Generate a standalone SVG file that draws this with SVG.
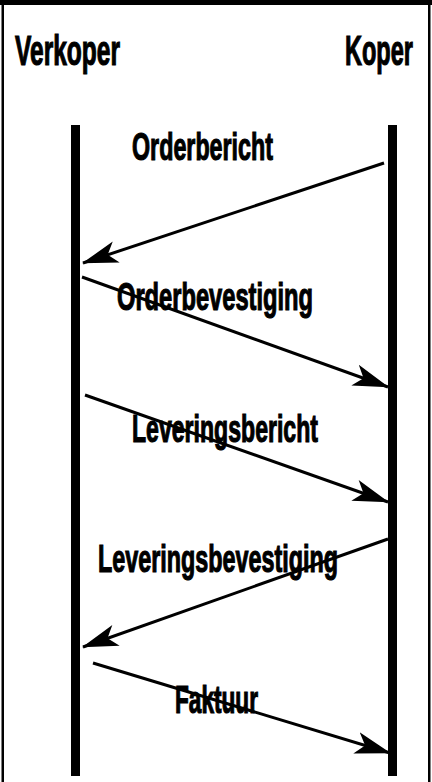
<svg xmlns="http://www.w3.org/2000/svg" width="432" height="782" viewBox="0 0 432 782">
<style>
.t{font-family:"Liberation Sans",Arial,sans-serif;font-weight:bold;fill:#000;stroke:#000;stroke-width:1.2;}
.msg{stroke:#000;stroke-width:3;fill:none;marker-end:url(#ah);}
.life{fill:#000;}
</style>
<defs>
<marker id="ah" viewBox="0 0 36 24" refX="35" refY="12" markerWidth="36" markerHeight="24" markerUnits="userSpaceOnUse" orient="auto">
<path d="M0,1 L36,12 L0,23 L9,12 Z" fill="#000"/>
</marker>
</defs>
<rect x="0" y="0" width="432" height="782" fill="#fff"/>
<rect x="0" y="0" width="432" height="5" fill="#000"/>
<rect x="1.5" y="2" width="2.5" height="780" fill="#000"/>
<rect x="428" y="2" width="2.5" height="780" fill="#000"/>
<g id="verkoper">
<text class="t" x="15" y="65" font-size="42" textLength="105" lengthAdjust="spacingAndGlyphs">Verkoper</text>
<rect class="life" x="71" y="125" width="9" height="651"/>
</g>
<g id="koper">
<text class="t" x="345" y="65" font-size="42" textLength="68" lengthAdjust="spacingAndGlyphs">Koper</text>
<rect class="life" x="388" y="125" width="9" height="651"/>
</g>
<g id="connectors">
<line class="msg" x1="384" y1="163" x2="83" y2="263"/>
<line class="msg" x1="82" y1="277" x2="388" y2="387"/>
<line class="msg" x1="85" y1="395" x2="388" y2="502"/>
<line class="msg" x1="388" y1="539" x2="83" y2="647"/>
<line class="msg" x1="93" y1="663" x2="390" y2="753"/>
</g>
<g id="labels">
<text class="t" x="132" y="160" font-size="39" textLength="141" lengthAdjust="spacingAndGlyphs">Orderbericht</text>
<text class="t" x="117" y="310" font-size="39" textLength="196" lengthAdjust="spacingAndGlyphs">Orderbevestiging</text>
<text class="t" x="132" y="442" font-size="39" textLength="186" lengthAdjust="spacingAndGlyphs">Leveringsbericht</text>
<text class="t" x="98" y="572" font-size="39" textLength="240" lengthAdjust="spacingAndGlyphs">Leveringsbevestiging</text>
<text class="t" x="175" y="713" font-size="39" textLength="83" lengthAdjust="spacingAndGlyphs">Faktuur</text>
</g>
</svg>
